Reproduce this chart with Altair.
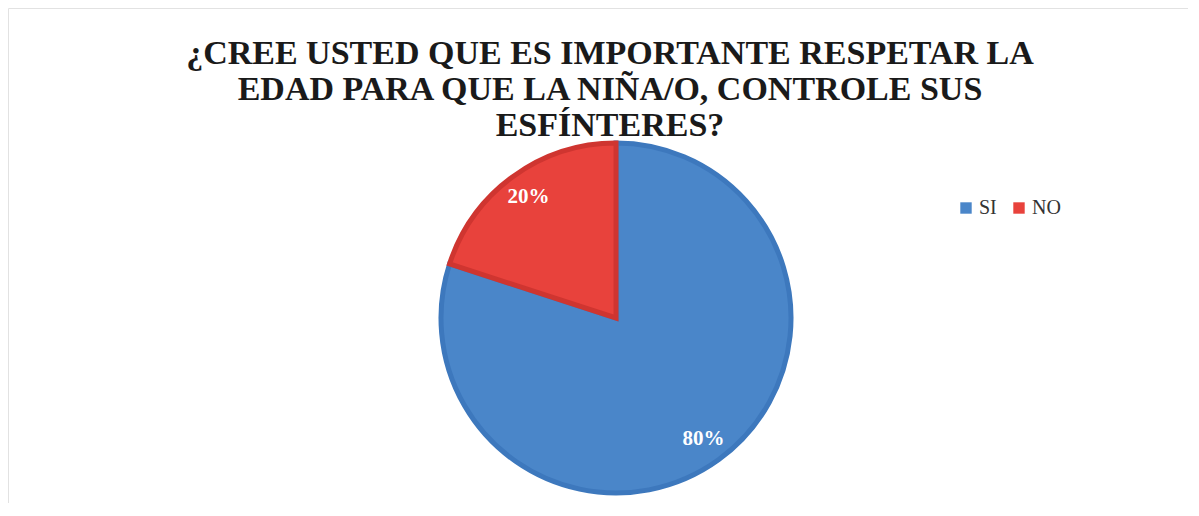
import altair as alt
import pandas as pd

categories = ["SI", "NO"]
values = [80, 20]
labels = ["80%", "20%"]
order = [0, 1]

df = pd.DataFrame({"cat": categories, "val": values, "label": labels, "ord": order})

title_lines = [
    "¿CREE USTED QUE ES IMPORTANTE RESPETAR LA",
    "EDAD PARA QUE LA NIÑA/O, CONTROLE SUS",
    "ESFÍNTERES?",
]

SERIF = "Liberation Serif"

fill_scale = alt.Scale(domain=categories, range=["#4a86c9", "#e8423c"])
stroke_scale = alt.Scale(domain=categories, range=["#3d78bd", "#cf3530"])

base = alt.Chart(df).encode(
    theta=alt.Theta("val:Q", stack=True),
    order=alt.Order("ord:Q"),
)

pie = base.mark_arc(strokeWidth=5, strokeJoin="miter").encode(
    color=alt.Color(
        "cat:N",
        scale=fill_scale,
        sort=categories,
        legend=alt.Legend(
            title=None,
            orient="none",
            legendX=948,
            legendY=190,
            direction="horizontal",
            symbolType="square",
            symbolSize=130,
            symbolStrokeWidth=0,
            labelFont=SERIF,
            labelFontSize=20,
            labelColor="#333333",
            columnPadding=12,
            labelOffset=3,
        ),
    ),
    stroke=alt.Stroke("cat:N", scale=stroke_scale, legend=None),
    x=alt.value(608),
    y=alt.value(310),
    radius=alt.value(175),
)

text = base.mark_text(
    font=SERIF, fontSize=21, fontWeight="bold", color="white"
).encode(
    text="label:N",
    x=alt.value(608),
    y=alt.value(310),
    radius=alt.value(149),
)

chart = (
    alt.layer(pie, text)
    .properties(
        width=1180,
        height=495,
        title=alt.TitleParams(
            text=title_lines,
            font=SERIF,
            fontSize=34,
            fontWeight="bold",
            color="#1a1a1a",
            lineHeight=36,
            anchor="middle",
            dx=12,
            offset=-135,
        ),
        padding=0,
    )
    .configure_view(stroke="#e2e2e2")
)

chart.save("out.html", embed_options={"renderer": "svg", "actions": False})
